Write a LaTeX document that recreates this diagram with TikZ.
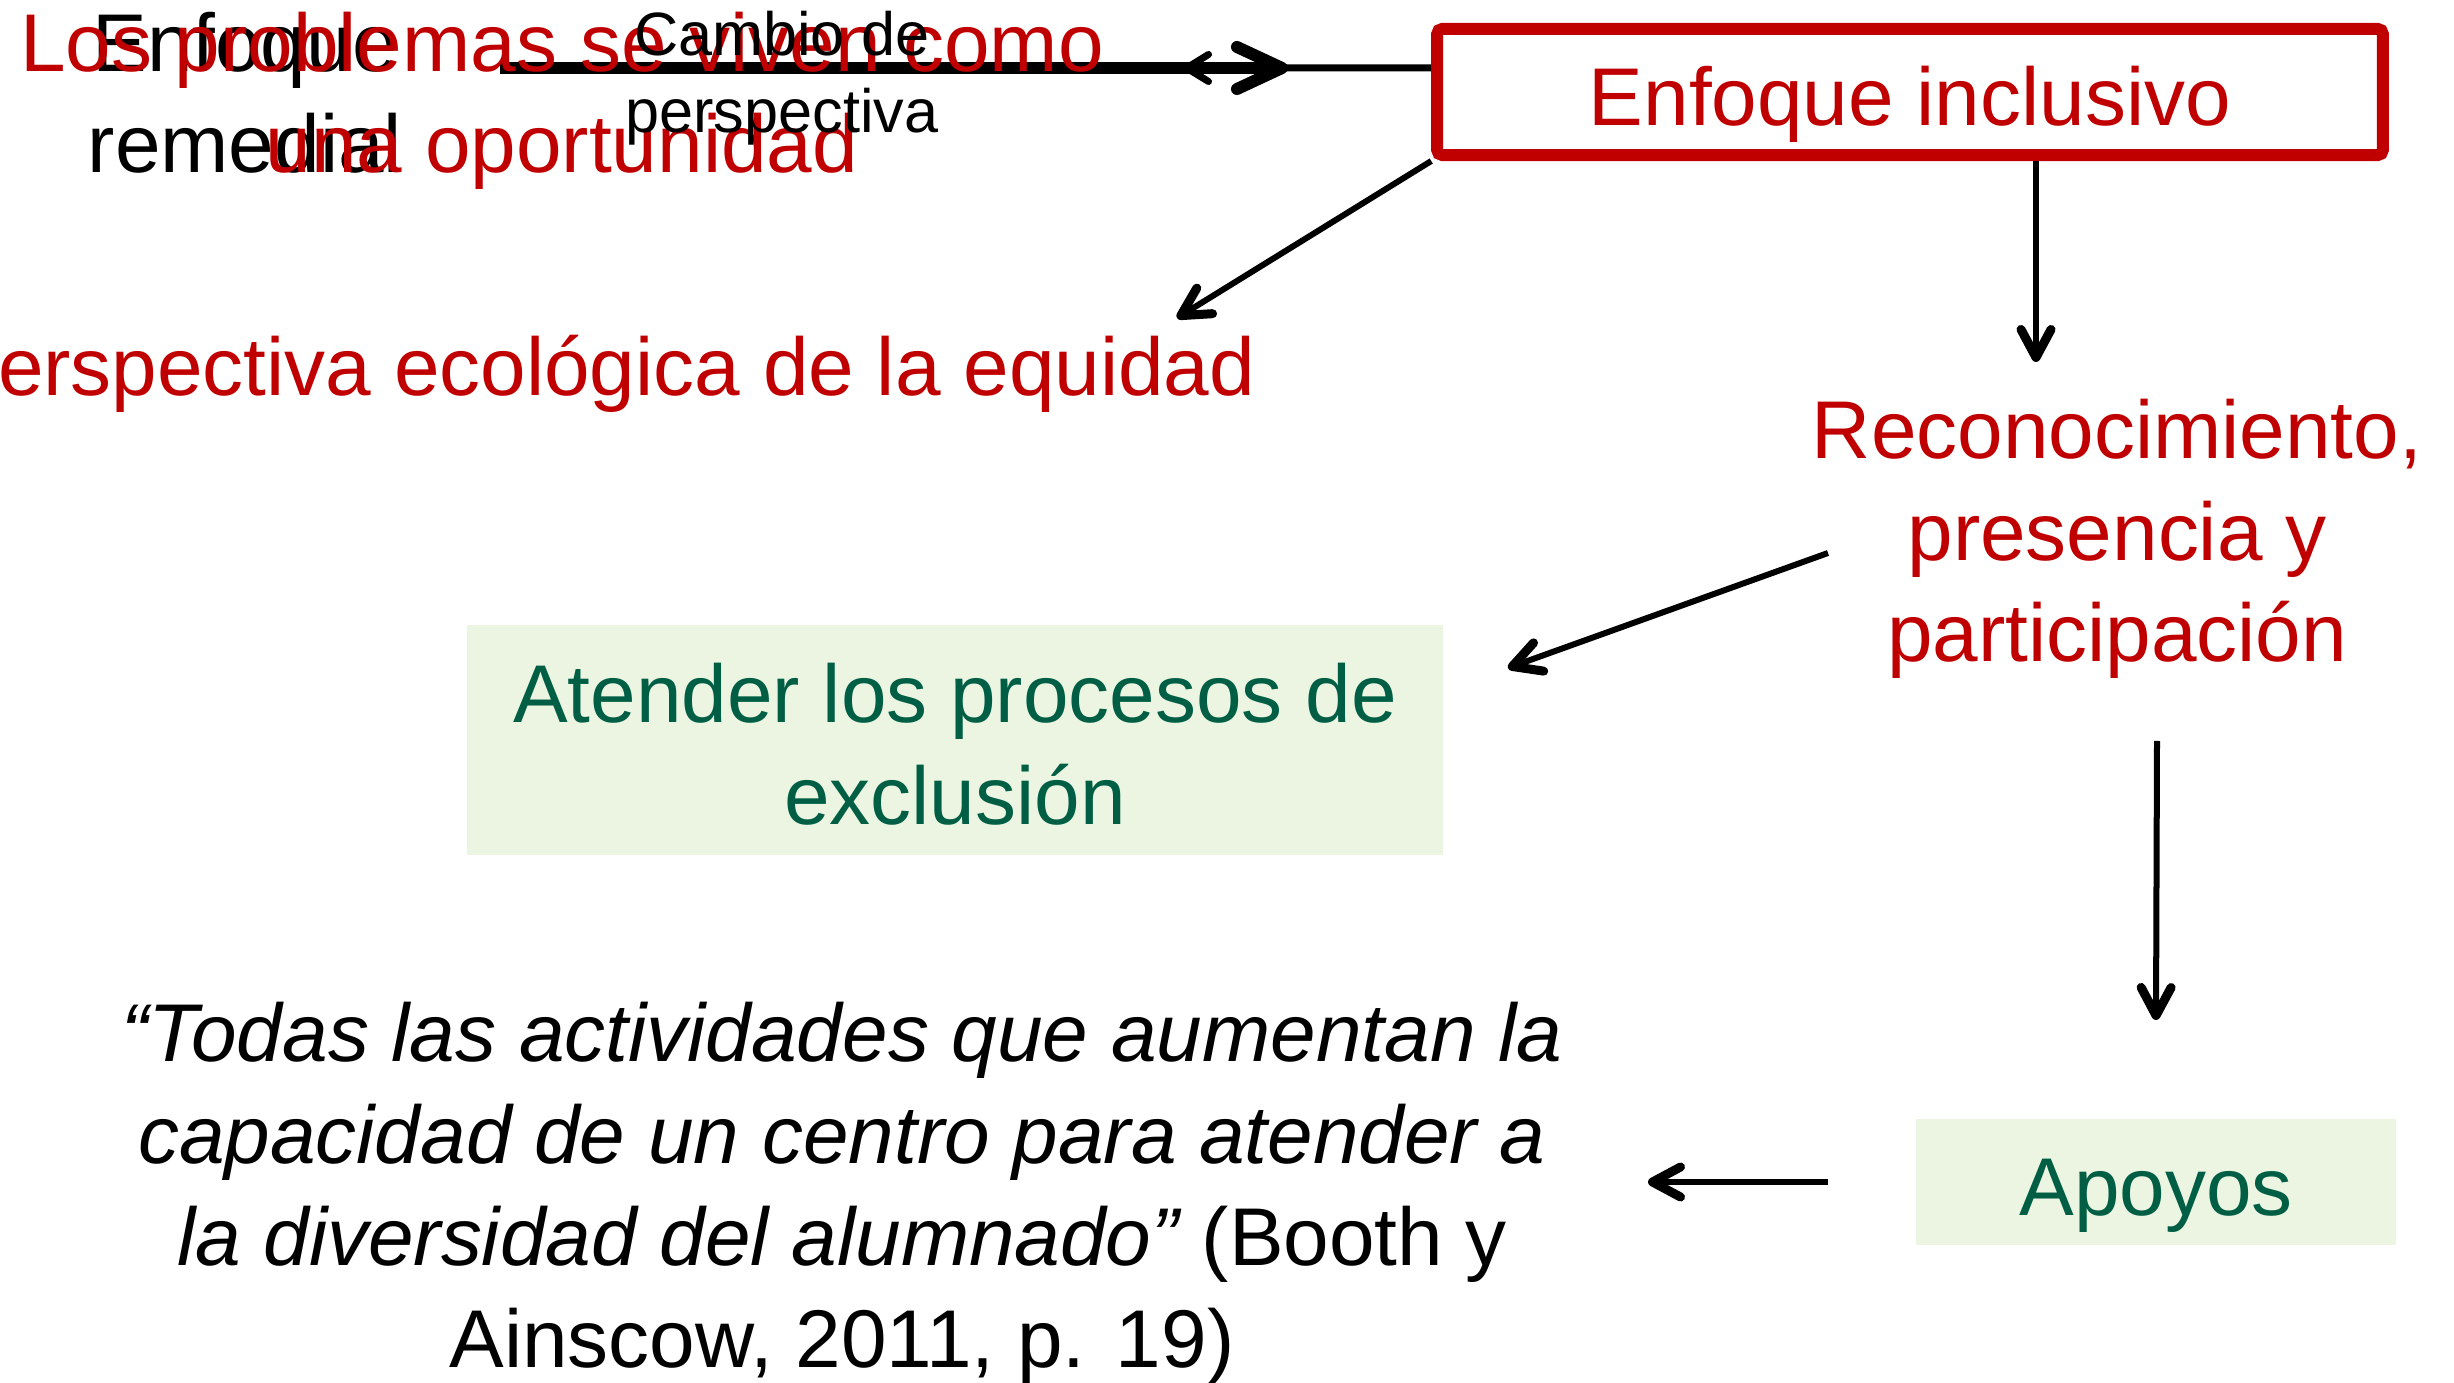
\documentclass[tikz,border=0pt]{standalone}
\usepackage{fontspec}
\setmainfont{Liberation Sans}
\usetikzlibrary{arrows.meta}
\definecolor{rojo}{HTML}{C00000}
\definecolor{verde}{HTML}{005E45}
\definecolor{verdeclaro}{HTML}{EBF5E1}
\tikzset{
  grande/.style={font=\fontsize{23.3}{29}\selectfont, inner sep=0pt, align=center},
  chico/.style={font=\fontsize{17.4}{21.9}\selectfont, inner sep=0pt, align=center},
  flecha/.style={line width=0.06cm, -{Straight Barb[length=0.28cm,width=0.3cm,line width=0.09cm,round]}},
  cajaverde/.style={grande, fill=verdeclaro, text=verde},
}

\begin{document}
\begin{tikzpicture}[x=0.01cm,y=-0.01cm]
		\useasboundingbox (0,0) rectangle (2454,1383);
		%%%%% START %%%%%
		
		\node[grande, draw=rojo, line width=0.12cm, rounded corners=0.05cm, text=rojo,
		      minimum width=9.45cm, minimum height=1.26cm, text height=0.66cm, text depth=0cm]
		      (inclusivo) at (1910,92) {Enfoque inclusivo};
		
		\coordinate (cambioIni) at (500,68);
		\coordinate (cambioFin) at (1288,68);
		\coordinate (vuelta) at (1183,68);
		\draw[line width=0.12cm, -{Straight Barb[length=0.45cm,width=0.42cm,round]}] (cambioIni) -- (cambioFin);
		\draw[line width=0.07cm, -{Straight Barb[length=0.22cm,width=0.27cm,round]}] ([yshift=0.24cm]inclusivo.west) -- (vuelta);
		
		\node[grande, anchor=base] (remedial) at (245,173) {Enfoque\\remedial};
		\node[grande, anchor=base, text=rojo] (problemas) at (562,173) {Los problemas se viven como\\una oportunidad};
		\node[chico, anchor=base] (cambio) at (782,133) {Cambio de\\perspectiva};
		
		\node[grande, anchor=base east, text=rojo] (ecologica) at (1256,396) {Perspectiva ecológica de la equidad};
		\coordinate (ecoFin) at (1177,318);
		\draw[flecha] (inclusivo.south west) -- (ecoFin);
		
		\node[grande, anchor=base, text=rojo] (recon) at (2117,662) {Reconocimiento,\\presencia y\\participación};
		\coordinate (reconFin) at (2036,362);
		\draw[flecha] (inclusivo.south -| reconFin) -- (reconFin);
		
		\node[cajaverde, minimum width=9.76cm, minimum height=2.29cm, text height=1.75cm, text depth=0.06cm]
		      (atender) at (955,740) {Atender los procesos de\\exclusión};
		\coordinate (atenderIni) at (1828,553);
		\coordinate (atenderFin) at (1508,668);
		\draw[flecha] (atenderIni) -- (atenderFin);
		
		\node[cajaverde, minimum width=4.8cm, minimum height=1.25cm, text height=0.66cm, text depth=0cm]
		      (apoyos) at (2156,1182) {Apoyos};
		\coordinate (apoyosIni) at (2157,741);
		\draw[flecha] (apoyosIni) -- (apoyos.north |- 0,1020);
		
		\node[grande, anchor=base] (cita) at (842,1367)
		      {{\itshape “Todas las actividades que aumentan la}\\{\itshape capacidad de un centro para atender a}\\{\itshape la diversidad del alumnado”} (Booth y\\Ainscow, 2011, p. 19)};
		\coordinate (citaIni) at (1828,1182);
		\coordinate (citaFin) at (1648,1182);
		\draw[flecha] (citaIni) -- (citaFin);
		
		%%%%% END %%%%%
	\end{tikzpicture}
\end{document}
